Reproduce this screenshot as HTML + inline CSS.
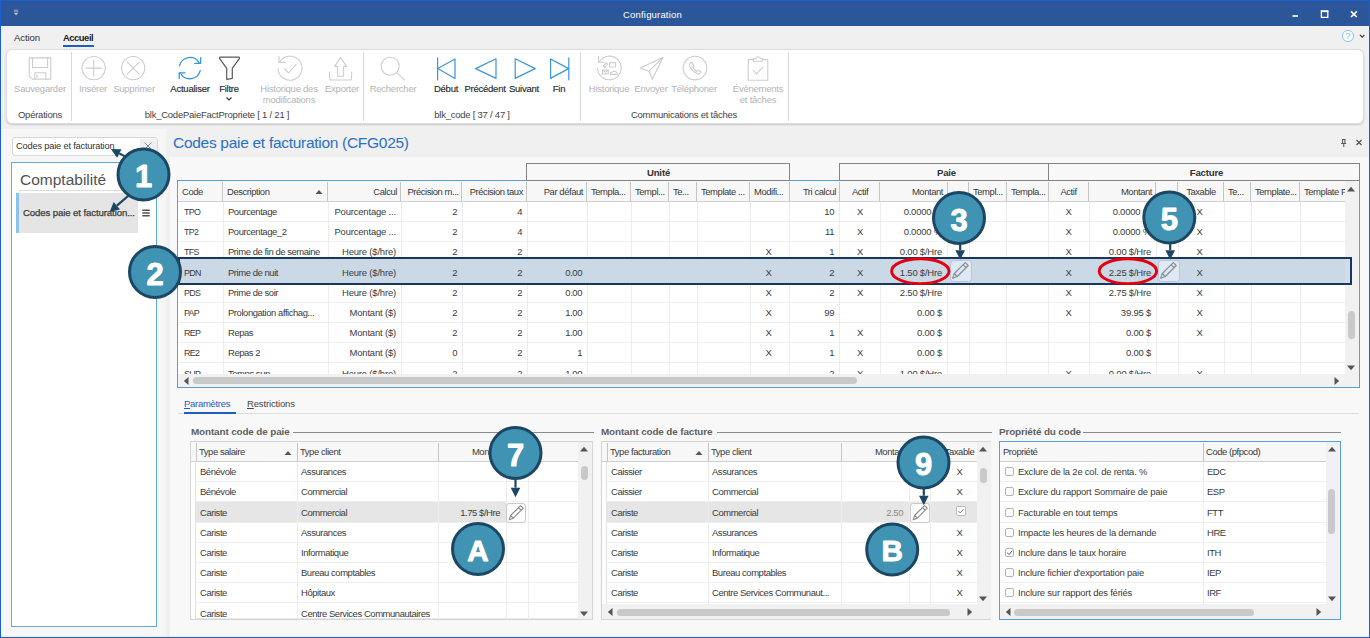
<!DOCTYPE html><html lang="fr"><head><meta charset="utf-8"><title>Configuration</title><style>
*{box-sizing:border-box;margin:0;padding:0}
html,body{width:1370px;height:638px;overflow:hidden}
body{position:relative;background:#f0f0f0;font-family:"Liberation Sans",sans-serif;font-size:11px;color:#3b3b3b}
.a{position:absolute}
.t{position:absolute;white-space:nowrap;line-height:14px;height:14px}
.r{text-align:right}
.c{text-align:center}
.g{color:#3a3a3a;font-size:9.46px;letter-spacing:-0.435px}
.rb{font-size:9.5px;letter-spacing:-0.24px;color:#2a2a2a;text-align:center}
.rbd{color:#b4b4b4}
.rbe{-webkit-text-stroke:.15px #2a2a2a}
.vl{position:absolute;width:1px;background:#ececec}
.hl{position:absolute;height:1px;background:#f0f0f0}
.hd{position:absolute;background:#f7f7f7;border-bottom:1px solid #d4d4d4}
.hs{position:absolute;width:1px;background:#c9c9c9}
.bub{position:absolute;border-radius:50%;background:#3f93b3;border:3px solid #1c4763;color:#fff;font-weight:bold;text-align:center;font-size:37px;box-shadow:0 1px 2px rgba(0,0,0,.25)}
</style></head><body>
<div class="a" style="left:0px;top:0px;width:1370px;height:26px;background:#2b579a"></div>
<div class="a" style="left:0px;top:0px;width:1370px;height:1px;background:#1c5fd0"></div>
<div class="a" style="left:0px;top:0px;width:1px;height:638px;background:#1c5fd0"></div>
<div class="a" style="left:1369px;top:0px;width:1px;height:638px;background:#1c5fd0"></div>
<div class="a" style="left:0px;top:636.6px;width:1370px;height:1.4px;background:#1c5fd0"></div>
<div class="t c" style="left:585px;top:8.2px;width:135px;color:#fff;font-size:9.5px;letter-spacing:.18px">Configuration</div>
<svg class="a" style="left:12px;top:8px" width="9" height="9" viewBox="12 8 9 9"><path d="M13.9 10.3h4.3M13.9 11.8h4.3" stroke="#aab2c0" stroke-width="0.9"/><path d="M13.9 12.9h4.3l-2.15 2.3z" fill="#c3c6cc"/></svg>
<svg class="a" style="left:1285px;top:6px" width="80" height="16" viewBox="1285 6 80 16"><g stroke="#fff" fill="none"><path d="M1292.5 16h5.5" stroke-width="1.7"/><path d="M1321.4 11.4h6.4v6h-6.4z" stroke-width="1.3"/><path d="M1320.8 11.2h7.6" stroke-width="1.9"/><path d="M1351 11.4l5.8 5.6M1356.8 11.4l-5.8 5.6" stroke-width="1.7"/></g></svg>
<div class="t " style="left:14px;top:31px;font-size:9.6px;letter-spacing:-.1px;color:#333">Action</div>
<div class="t " style="left:63px;top:31px;font-size:9.4px;letter-spacing:-.45px;color:#222;font-weight:bold">Accueil</div>
<div class="a" style="left:63px;top:45px;width:31px;height:2px;background:#1e5fbe"></div>
<svg class="a" style="left:1341px;top:29px" width="24" height="14" viewBox="0 0 24 14"><circle cx="7" cy="7" r="5.6" fill="#fafcff" stroke="#8fc3ec" stroke-width="1"/><text x="7" y="10.3" font-size="9" text-anchor="middle" fill="#86bdea" font-family="Liberation Sans,sans-serif">?</text><path d="M19 6l2.2 2.2 2.2-2.2" stroke="#444" stroke-width="1.3" fill="none"/></svg>
<div class="a" style="left:6.3px;top:49.3px;width:1358.2px;height:74.7px;background:#fff;border:1px solid #dcdcdc;border-radius:6px;box-shadow:0 1px 2px rgba(0,0,0,.17)"></div>
<div class="a" style="left:71px;top:52px;width:1px;height:69px;background:#d9d9d9"></div>
<div class="a" style="left:363px;top:52px;width:1px;height:69px;background:#d9d9d9"></div>
<div class="a" style="left:580px;top:52px;width:1px;height:69px;background:#d9d9d9"></div>
<div class="a" style="left:788px;top:52px;width:1px;height:69px;background:#d9d9d9"></div>
<svg class="a" style="left:0;top:50px" width="800" height="40" viewBox="0 50 800 40" fill="none" stroke-linecap="round" stroke-linejoin="round">
<g stroke="#cdcdcd" stroke-width="1.1"><path d="M29.2 57.9h21.6v21.2H32.4l-3.2-3.2z"/><path d="M32.6 57.9v9.6h15v-9.6"/><path d="M34.8 79.1v-6.3h11v6.3"/><path d="M37 74.8v2.4"/></g>
<g stroke="#cdcdcd" stroke-width="1.1"><circle cx="93.7" cy="68.1" r="11.6"/><path d="M85.8 68.1h15.8M93.7 60.2v15.8"/></g>
<g stroke="#cdcdcd" stroke-width="1.1"><circle cx="133.2" cy="68.1" r="11.6"/><path d="M127.5 62.4l11.4 11.4M138.9 62.4l-11.4 11.4"/></g>
<g stroke="#3a95dc" stroke-width="1.3"><path d="M179.6 65.6a10.6 10.6 0 0 1 19.6-2.6"/><path d="M200.6 57.6v5.8h-5.8"/><path d="M200.2 70.6a10.6 10.6 0 0 1-19.6 2.6"/><path d="M179.2 78.6v-5.8h5.8"/></g>
<g stroke="#5a5a5a" stroke-width="1.2"><path d="M220.2 57.2h18.4q1.4 0.2 0.7 1.5l-7 9.6v10l-5.6 1.1v-11.1l-7-9.6q-0.7-1.3 0.5-1.5z"/></g>
<g stroke="#cdcdcd" stroke-width="1.1"><path d="M279.6 62.2a12 12 0 1 1-1.6 6.4"/><path d="M279 56.6v5.8h5.8"/><path d="M284.4 68.6l4.2 4.4 7.6-8.6"/></g>
<g stroke="#cdcdcd" stroke-width="1.1"><path d="M329.6 72v6q0 2 2 2h18q2 0 2-2v-6"/><path d="M340.6 57.6l6 8.8h-3v9.8h-6v-9.8h-3z"/></g>
<g stroke="#cdcdcd" stroke-width="1.1"><circle cx="390.2" cy="66.2" r="9"/><path d="M396.8 72.6l7.6 7.2"/></g>
<g stroke="#3a95dc" stroke-width="1.2"><path d="M437.6 57.9v21.9"/><path d="M437.8 68.6l17.2-9.6v19.4z"/></g>
<g stroke="#3a95dc" stroke-width="1.2"><path d="M475.6 68.6l20.4-9.8v19.6z"/></g>
<g stroke="#3a95dc" stroke-width="1.2"><path d="M535.2 68.6l-20-9.8v19.6z"/></g>
<g stroke="#3a95dc" stroke-width="1.2"><path d="M568.8 57.9v21.9"/><path d="M568.6 68.6l-18-9.6v19.4z"/></g>
<g stroke="#cdcdcd" stroke-width="1.1"><path d="M599.2 62a11.8 11.8 0 1 1-1.6 6.2"/><path d="M598.6 56.6v5.6h5.6"/><rect x="609.6" y="62.6" width="6" height="4.4" rx="0.8"/><path d="M603.4 66.2l3-3.4 1.4 1.2-3 3.4z"/><rect x="602.6" y="70" width="5.6" height="4"/><path d="M602.6 70l2.8 2.2 2.8-2.2"/><path d="M610.4 74.4q0-2.6 2.6-2.6 1.2-1.4 2.6 0 2 0.2 1.6 2.6z"/></g>
<g stroke="#cdcdcd" stroke-width="1.1"><path d="M640.2 68l22.6-10.4-10.4 21.6-3.4-8z"/><path d="M649 71.2l13.8-13.6"/></g>
<g stroke="#cdcdcd" stroke-width="1.1"><circle cx="695" cy="68.1" r="11.8"/><path d="M690.4 62.6q-1.6 1.4-0.6 3.6 2.4 5 7.4 7.6 2 0.8 3.2-0.8l0.6-1-2.6-1.8-1.4 1.2q-3-1.6-4.4-4.6l1.2-1.2-1.8-3z"/></g>
<g stroke="#cdcdcd" stroke-width="1.1"><path d="M753.4 59.6h-5.2v20.6h19.6V59.6h-5.2"/><path d="M753.4 61.2v-2.6h2.4q0.4-1.8 2.2-1.8t2.2 1.8h2.4v2.6z"/><path d="M753.2 70.4l3.4 3.4 6.4-7"/></g>
</svg>
<div class="t rb rbd" style="left:-10px;top:82px;width:100px;">Sauvegarder</div>
<div class="t rb rbd" style="left:43px;top:82px;width:100px;">Insérer</div>
<div class="t rb rbd" style="left:84px;top:82px;width:100px;">Supprimer</div>
<div class="t rb rbe" style="left:140px;top:82px;width:100px;">Actualiser</div>
<div class="t rb rbe" style="left:179px;top:82px;width:100px;">Filtre</div>
<div class="t rb rbd" style="left:239px;top:82px;width:100px;">Historique des</div>
<div class="t rb rbd" style="left:239px;top:93px;width:100px;">modifications</div>
<div class="t rb rbd" style="left:292px;top:82px;width:100px;">Exporter</div>
<div class="t rb rbd" style="left:343px;top:82px;width:100px;">Rechercher</div>
<div class="t rb rbe" style="left:396px;top:82px;width:100px;">Début</div>
<div class="t rb rbe" style="left:435px;top:82px;width:100px;">Précédent</div>
<div class="t rb rbe" style="left:474px;top:82px;width:100px;">Suivant</div>
<div class="t rb rbe" style="left:509px;top:82px;width:100px;">Fin</div>
<div class="t rb rbd" style="left:559px;top:82px;width:100px;">Historique</div>
<div class="t rb rbd" style="left:601px;top:82px;width:100px;">Envoyer</div>
<div class="t rb rbd" style="left:644px;top:82px;width:100px;">Téléphoner</div>
<div class="t rb rbd" style="left:708px;top:82px;width:100px;">Évènements</div>
<div class="t rb rbd" style="left:708px;top:93px;width:100px;">et tâches</div>
<div class="t rb" style="left:-60px;top:108px;width:200px;color:#444">Opérations</div>
<div class="t rb" style="left:117px;top:108px;width:200px;color:#444">blk_CodePaieFactPropriete [ 1 / 21 ]</div>
<div class="t rb" style="left:372px;top:108px;width:200px;color:#444">blk_code [ 37 / 47 ]</div>
<div class="t rb" style="left:584px;top:108px;width:200px;color:#444">Communications et tâches</div>
<svg class="a" style="left:225px;top:96px" width="8" height="6" viewBox="0 0 8 6"><path d="M1.5 1.5l2.5 2.5 2.5-2.5" stroke="#333" stroke-width="1.1" fill="none"/></svg>
<div class="a" style="left:1px;top:129px;width:164.5px;height:507px;background:#f6f6f6"></div>
<div class="a" style="left:169.5px;top:157px;width:1199.5px;height:479px;background:#f8f8f8"></div>
<div class="a" style="left:12px;top:137px;width:146px;height:19px;background:#fff;border:1px solid #d6d6d6;border-radius:3px"></div>
<div class="t g" style="left:16px;top:139px;font-size:9.3px;letter-spacing:-.2px;color:#333">Codes paie et facturation</div>
<div class="a" style="left:139.5px;top:138.5px;width:17px;height:17px;background:#efefef;border-radius:0 2px 2px 0"></div>
<svg class="a" style="left:142.6px;top:141px" width="10" height="10" viewBox="0 0 10 10"><path d="M1.6 1.6l6.8 6.8M8.4 1.6l-6.8 6.8" stroke="#6c86b0" stroke-width="1" fill="none"/></svg>
<div class="a" style="left:11px;top:162px;width:146px;height:465px;background:#fff;border:1px solid #62a9de"></div>
<div class="t " style="left:20px;top:170px;font-size:15.5px;color:#525252;line-height:20px;height:20px">Comptabilité</div>
<div class="a" style="left:19px;top:190px;width:131px;height:1px;background:#dcdcdc"></div>
<div class="a" style="left:16px;top:193px;width:122px;height:40px;background:#e5e5e5;border-left:3px solid #8cc3ec"></div>
<div class="t " style="left:23px;top:206px;font-size:9.6px;letter-spacing:-.1px;color:#3a3a3a;-webkit-text-stroke:0.25px #3a3a3a">Codes paie et facturation...</div>
<svg class="a" style="left:142px;top:208.6px" width="8" height="8" viewBox="0 0 8 8"><path d="M0.3 1.3h7.4M0.3 4h7.4M0.3 6.7h7.4" stroke="#505050" stroke-width="1.4"/></svg>
<div class="t " style="left:173px;top:133px;font-size:15.5px;color:#2a6fc9;line-height:20px;height:20px;letter-spacing:-.29px">Codes paie et facturation (CFG025)</div>
<svg class="a" style="left:1338px;top:138px" width="28" height="10" viewBox="0 0 28 10"><g stroke="#555" stroke-width="1" fill="none"><path d="M4 1.5h3.5M4.6 1.5v4M6.9 1.5v4M3.2 5.5h5M5.75 5.5v3.5"/><path d="M18.5 2l5 5M23.5 2l-5 5" stroke-width="1.3"/></g></svg>
<div class="a" style="left:177px;top:180px;width:1183px;height:208px;background:#fff;border:1px solid #55a0dc"></div>
<div class="a" style="left:178px;top:181px;width:1167px;height:20.5px;background:#f7f7f7;border-bottom:1px solid #d0d0d0"></div>
<div class="a" style="left:526px;top:162.5px;width:264px;height:18.5px;background:#f8f8f8;border:1.5px solid #848484"></div>
<div class="t c" style="left:527px;top:166px;width:263px;font-weight:bold;font-size:9.6px;letter-spacing:-.15px;color:#333">Unité</div>
<div class="a" style="left:839px;top:162.5px;width:210px;height:18.5px;background:#f8f8f8;border:1.5px solid #848484"></div>
<div class="t c" style="left:842px;top:166px;width:209px;font-weight:bold;font-size:9.6px;letter-spacing:-.15px;color:#333">Paie</div>
<div class="a" style="left:1048px;top:162.5px;width:312px;height:18.5px;background:#f8f8f8;border:1.5px solid #848484"></div>
<div class="t c" style="left:1051px;top:166px;width:311px;font-weight:bold;font-size:9.6px;letter-spacing:-.15px;color:#333">Facture</div>
<div class="a" style="left:222.0px;top:182px;width:1px;height:18.5px;background:#c4c4c4"></div>
<div class="a" style="left:327.0px;top:182px;width:1px;height:18.5px;background:#c4c4c4"></div>
<div class="a" style="left:400.0px;top:182px;width:1px;height:18.5px;background:#c4c4c4"></div>
<div class="a" style="left:461.0px;top:182px;width:1px;height:18.5px;background:#c4c4c4"></div>
<div class="a" style="left:526.0px;top:182px;width:1px;height:18.5px;background:#c4c4c4"></div>
<div class="a" style="left:586.0px;top:182px;width:1px;height:18.5px;background:#c4c4c4"></div>
<div class="a" style="left:630.0px;top:182px;width:1px;height:18.5px;background:#c4c4c4"></div>
<div class="a" style="left:668.0px;top:182px;width:1px;height:18.5px;background:#c4c4c4"></div>
<div class="a" style="left:696.0px;top:182px;width:1px;height:18.5px;background:#c4c4c4"></div>
<div class="a" style="left:749.0px;top:182px;width:1px;height:18.5px;background:#c4c4c4"></div>
<div class="a" style="left:788.8px;top:182px;width:1px;height:18.5px;background:#c4c4c4"></div>
<div class="a" style="left:838.7px;top:182px;width:1px;height:18.5px;background:#c4c4c4"></div>
<div class="a" style="left:879.3px;top:182px;width:1px;height:18.5px;background:#c4c4c4"></div>
<div class="a" style="left:946.5px;top:182px;width:1px;height:18.5px;background:#c4c4c4"></div>
<div class="a" style="left:968.0px;top:182px;width:1px;height:18.5px;background:#c4c4c4"></div>
<div class="a" style="left:1005.7px;top:182px;width:1px;height:18.5px;background:#c4c4c4"></div>
<div class="a" style="left:1047.5px;top:182px;width:1px;height:18.5px;background:#c4c4c4"></div>
<div class="a" style="left:1088.0px;top:182px;width:1px;height:18.5px;background:#c4c4c4"></div>
<div class="a" style="left:1155.0px;top:182px;width:1px;height:18.5px;background:#c4c4c4"></div>
<div class="a" style="left:1177.0px;top:182px;width:1px;height:18.5px;background:#c4c4c4"></div>
<div class="a" style="left:1223.0px;top:182px;width:1px;height:18.5px;background:#c4c4c4"></div>
<div class="a" style="left:1250.0px;top:182px;width:1px;height:18.5px;background:#c4c4c4"></div>
<div class="a" style="left:1299.0px;top:182px;width:1px;height:18.5px;background:#c4c4c4"></div>
<div class="t g" style="left:182px;top:184.7px;">Code</div>
<div class="t g" style="left:227px;top:184.7px;">Description</div>
<div class="t g r" style="left:328px;top:184.7px;width:69px;">Calcul</div>
<div class="t g" style="left:407.4px;top:184.7px;">Précision m...</div>
<div class="t g r" style="left:462px;top:184.7px;width:61px;">Précision taux</div>
<div class="t g r" style="left:527px;top:184.7px;width:56px;">Par défaut</div>
<div class="t g" style="left:591px;top:184.7px;">Templa...</div>
<div class="t g" style="left:635px;top:184.7px;">Templ...</div>
<div class="t g" style="left:673px;top:184.7px;">Te...</div>
<div class="t g" style="left:701px;top:184.7px;">Template ...</div>
<div class="t g" style="left:754px;top:184.7px;">Modifi...</div>
<div class="t g r" style="left:790px;top:184.7px;width:46px;">Tri calcul</div>
<div class="t g c" style="left:840px;top:184.7px;width:40px;">Actif</div>
<div class="t g r" style="left:880px;top:184.7px;width:63px;">Montant</div>
<div class="t g" style="left:973px;top:184.7px;">Templ...</div>
<div class="t g" style="left:1011px;top:184.7px;">Templa...</div>
<div class="t g c" style="left:1048px;top:184.7px;width:41px;">Actif</div>
<div class="t g r" style="left:1089px;top:184.7px;width:63px;">Montant</div>
<div class="t g c" style="left:1178px;top:184.7px;width:46px;">Taxable</div>
<div class="t g" style="left:1228px;top:184.7px;">Te...</div>
<div class="t g" style="left:1255px;top:184.7px;">Template...</div>
<div class="t g" style="left:1304px;top:184.7px;">Template F</div>
<svg class="a" style="left:315px;top:188.8px" width="8" height="6" viewBox="0 0 8 6"><path d="M0.5 5L4 1l3.5 4z" fill="#555"/></svg>
<div class="a" style="left:178px;top:201.5px;width:1167px;height:172.5px;overflow:hidden">
<div class="hl" style="left:0;top:19.2px;width:1167px"></div>
<div class="hl" style="left:0;top:39.4px;width:1167px"></div>
<div class="hl" style="left:0;top:59.6px;width:1167px"></div>
<div class="hl" style="left:0;top:79.8px;width:1167px"></div>
<div class="hl" style="left:0;top:100.0px;width:1167px"></div>
<div class="hl" style="left:0;top:120.2px;width:1167px"></div>
<div class="hl" style="left:0;top:140.4px;width:1167px"></div>
<div class="hl" style="left:0;top:160.6px;width:1167px"></div>
<div class="hl" style="left:0;top:180.8px;width:1167px"></div>
<div class="vl" style="left:44.5px;top:0;height:200px"></div>
<div class="vl" style="left:149.5px;top:0;height:200px"></div>
<div class="vl" style="left:222.5px;top:0;height:200px"></div>
<div class="vl" style="left:283.5px;top:0;height:200px"></div>
<div class="vl" style="left:348.5px;top:0;height:200px"></div>
<div class="vl" style="left:408.5px;top:0;height:200px"></div>
<div class="vl" style="left:452.5px;top:0;height:200px"></div>
<div class="vl" style="left:490.5px;top:0;height:200px"></div>
<div class="vl" style="left:518.5px;top:0;height:200px"></div>
<div class="vl" style="left:571.5px;top:0;height:200px"></div>
<div class="vl" style="left:611.3px;top:0;height:200px"></div>
<div class="vl" style="left:661.2px;top:0;height:200px"></div>
<div class="vl" style="left:701.8px;top:0;height:200px"></div>
<div class="vl" style="left:769px;top:0;height:200px"></div>
<div class="vl" style="left:790.5px;top:0;height:200px"></div>
<div class="vl" style="left:828.2px;top:0;height:200px"></div>
<div class="vl" style="left:870px;top:0;height:200px"></div>
<div class="vl" style="left:910.5px;top:0;height:200px"></div>
<div class="vl" style="left:977.5px;top:0;height:200px"></div>
<div class="vl" style="left:999.5px;top:0;height:200px"></div>
<div class="vl" style="left:1045.5px;top:0;height:200px"></div>
<div class="vl" style="left:1072.5px;top:0;height:200px"></div>
<div class="vl" style="left:1121.5px;top:0;height:200px"></div>
</div>
<div class="a" style="left:179px;top:258px;width:1172px;height:26px;background:#cbd8e6"></div>
<div class="a" style="left:178px;top:201.5px;width:1167px;height:172.5px;overflow:hidden">
<div class="t g" style="left:6px;top:3.4px;font-size:8.9px;letter-spacing:-.7px">TPO</div>
<div class="t g" style="left:50px;top:3.4px;">Pourcentage</div>
<div class="t g r" style="left:150px;top:3.4px;width:68px;letter-spacing:-.17px">Pourcentage ...</div>
<div class="t g r" style="left:223px;top:3.4px;width:56px;">2</div>
<div class="t g r" style="left:284px;top:3.4px;width:60px;">4</div>
<div class="t g r" style="left:612px;top:3.4px;width:44px;">10</div>
<div class="t g c" style="left:662px;top:3.4px;width:40px;">X</div>
<div class="t g r" style="left:702px;top:3.4px;width:62px;letter-spacing:-.2px">0.0000 %</div>
<div class="t g c" style="left:870px;top:3.4px;width:41px;">X</div>
<div class="t g r" style="left:911px;top:3.4px;width:62px;letter-spacing:-.2px">0.0000 %</div>
<div class="t g c" style="left:997px;top:3.4px;width:49px;">X</div>
<div class="t g" style="left:6px;top:23.6px;font-size:8.9px;letter-spacing:-.7px">TP2</div>
<div class="t g" style="left:50px;top:23.6px;">Pourcentage_2</div>
<div class="t g r" style="left:150px;top:23.6px;width:68px;letter-spacing:-.17px">Pourcentage ...</div>
<div class="t g r" style="left:223px;top:23.6px;width:56px;">2</div>
<div class="t g r" style="left:284px;top:23.6px;width:60px;">4</div>
<div class="t g r" style="left:612px;top:23.6px;width:44px;">11</div>
<div class="t g c" style="left:662px;top:23.6px;width:40px;">X</div>
<div class="t g r" style="left:702px;top:23.6px;width:62px;letter-spacing:-.2px">0.0000 %</div>
<div class="t g c" style="left:870px;top:23.6px;width:41px;">X</div>
<div class="t g r" style="left:911px;top:23.6px;width:62px;letter-spacing:-.2px">0.0000 %</div>
<div class="t g c" style="left:997px;top:23.6px;width:49px;">X</div>
<div class="t g" style="left:6px;top:43.8px;font-size:8.9px;letter-spacing:-.7px">TFS</div>
<div class="t g" style="left:50px;top:43.8px;">Prime de fin de semaine</div>
<div class="t g r" style="left:150px;top:43.8px;width:68px;letter-spacing:-.17px">Heure ($/hre)</div>
<div class="t g r" style="left:223px;top:43.8px;width:56px;">2</div>
<div class="t g r" style="left:284px;top:43.8px;width:60px;">2</div>
<div class="t g c" style="left:569px;top:43.8px;width:43px;">X</div>
<div class="t g r" style="left:612px;top:43.8px;width:44px;">1</div>
<div class="t g c" style="left:662px;top:43.8px;width:40px;">X</div>
<div class="t g r" style="left:702px;top:43.8px;width:62px;letter-spacing:-.2px">0.00 $/Hre</div>
<div class="t g c" style="left:870px;top:43.8px;width:41px;">X</div>
<div class="t g r" style="left:911px;top:43.8px;width:62px;letter-spacing:-.2px">0.00 $/Hre</div>
<div class="t g c" style="left:997px;top:43.8px;width:49px;">X</div>
<div class="t g" style="left:6px;top:64.0px;font-size:8.9px;letter-spacing:-.7px">PDN</div>
<div class="t g" style="left:50px;top:64.0px;">Prime de nuit</div>
<div class="t g r" style="left:150px;top:64.0px;width:68px;letter-spacing:-.17px">Heure ($/hre)</div>
<div class="t g r" style="left:223px;top:64.0px;width:56px;">2</div>
<div class="t g r" style="left:284px;top:64.0px;width:60px;">2</div>
<div class="t g r" style="left:349px;top:64.0px;width:55px;">0.00</div>
<div class="t g c" style="left:569px;top:64.0px;width:43px;">X</div>
<div class="t g r" style="left:612px;top:64.0px;width:44px;">2</div>
<div class="t g c" style="left:662px;top:64.0px;width:40px;">X</div>
<div class="t g r" style="left:702px;top:64.0px;width:62px;letter-spacing:-.2px">1.50 $/Hre</div>
<div class="t g c" style="left:870px;top:64.0px;width:41px;">X</div>
<div class="t g r" style="left:911px;top:64.0px;width:62px;letter-spacing:-.2px">2.25 $/Hre</div>
<div class="t g c" style="left:997px;top:64.0px;width:49px;">X</div>
<div class="t g" style="left:6px;top:84.2px;font-size:8.9px;letter-spacing:-.7px">PDS</div>
<div class="t g" style="left:50px;top:84.2px;">Prime de soir</div>
<div class="t g r" style="left:150px;top:84.2px;width:68px;letter-spacing:-.17px">Heure ($/hre)</div>
<div class="t g r" style="left:223px;top:84.2px;width:56px;">2</div>
<div class="t g r" style="left:284px;top:84.2px;width:60px;">2</div>
<div class="t g r" style="left:349px;top:84.2px;width:55px;">0.00</div>
<div class="t g c" style="left:569px;top:84.2px;width:43px;">X</div>
<div class="t g r" style="left:612px;top:84.2px;width:44px;">2</div>
<div class="t g c" style="left:662px;top:84.2px;width:40px;">X</div>
<div class="t g r" style="left:702px;top:84.2px;width:62px;letter-spacing:-.2px">2.50 $/Hre</div>
<div class="t g c" style="left:870px;top:84.2px;width:41px;">X</div>
<div class="t g r" style="left:911px;top:84.2px;width:62px;letter-spacing:-.2px">2.75 $/Hre</div>
<div class="t g c" style="left:997px;top:84.2px;width:49px;">X</div>
<div class="t g" style="left:6px;top:104.4px;font-size:8.9px;letter-spacing:-.7px">PAP</div>
<div class="t g" style="left:50px;top:104.4px;">Prolongation affichag...</div>
<div class="t g r" style="left:150px;top:104.4px;width:68px;letter-spacing:-.17px">Montant ($)</div>
<div class="t g r" style="left:223px;top:104.4px;width:56px;">2</div>
<div class="t g r" style="left:284px;top:104.4px;width:60px;">2</div>
<div class="t g r" style="left:349px;top:104.4px;width:55px;">1.00</div>
<div class="t g c" style="left:569px;top:104.4px;width:43px;">X</div>
<div class="t g r" style="left:612px;top:104.4px;width:44px;">99</div>
<div class="t g r" style="left:702px;top:104.4px;width:62px;letter-spacing:-.2px">0.00 $</div>
<div class="t g c" style="left:870px;top:104.4px;width:41px;">X</div>
<div class="t g r" style="left:911px;top:104.4px;width:62px;letter-spacing:-.2px">39.95 $</div>
<div class="t g c" style="left:997px;top:104.4px;width:49px;">X</div>
<div class="t g" style="left:6px;top:124.6px;font-size:8.9px;letter-spacing:-.7px">REP</div>
<div class="t g" style="left:50px;top:124.6px;">Repas</div>
<div class="t g r" style="left:150px;top:124.6px;width:68px;letter-spacing:-.17px">Montant ($)</div>
<div class="t g r" style="left:223px;top:124.6px;width:56px;">2</div>
<div class="t g r" style="left:284px;top:124.6px;width:60px;">2</div>
<div class="t g r" style="left:349px;top:124.6px;width:55px;">1.00</div>
<div class="t g c" style="left:569px;top:124.6px;width:43px;">X</div>
<div class="t g r" style="left:612px;top:124.6px;width:44px;">1</div>
<div class="t g c" style="left:662px;top:124.6px;width:40px;">X</div>
<div class="t g r" style="left:702px;top:124.6px;width:62px;letter-spacing:-.2px">0.00 $</div>
<div class="t g r" style="left:911px;top:124.6px;width:62px;letter-spacing:-.2px">0.00 $</div>
<div class="t g c" style="left:997px;top:124.6px;width:49px;">X</div>
<div class="t g" style="left:6px;top:144.8px;font-size:8.9px;letter-spacing:-.7px">RE2</div>
<div class="t g" style="left:50px;top:144.8px;">Repas 2</div>
<div class="t g r" style="left:150px;top:144.8px;width:68px;letter-spacing:-.17px">Montant ($)</div>
<div class="t g r" style="left:223px;top:144.8px;width:56px;">0</div>
<div class="t g r" style="left:284px;top:144.8px;width:60px;">2</div>
<div class="t g r" style="left:349px;top:144.8px;width:55px;">1</div>
<div class="t g c" style="left:569px;top:144.8px;width:43px;">X</div>
<div class="t g r" style="left:612px;top:144.8px;width:44px;">1</div>
<div class="t g c" style="left:662px;top:144.8px;width:40px;">X</div>
<div class="t g r" style="left:702px;top:144.8px;width:62px;letter-spacing:-.2px">0.00 $</div>
<div class="t g r" style="left:911px;top:144.8px;width:62px;letter-spacing:-.2px">0.00 $</div>
<div class="t g" style="left:6px;top:165.0px;font-size:8.9px;letter-spacing:-.7px">SUP</div>
<div class="t g" style="left:50px;top:165.0px;">Temps sup</div>
<div class="t g r" style="left:150px;top:165.0px;width:68px;letter-spacing:-.17px">Heure ($/hre)</div>
<div class="t g r" style="left:223px;top:165.0px;width:56px;">2</div>
<div class="t g r" style="left:284px;top:165.0px;width:60px;">2</div>
<div class="t g r" style="left:349px;top:165.0px;width:55px;">1.00</div>
<div class="t g r" style="left:612px;top:165.0px;width:44px;">2</div>
<div class="t g c" style="left:662px;top:165.0px;width:40px;">X</div>
<div class="t g r" style="left:702px;top:165.0px;width:62px;letter-spacing:-.2px">1.00 $/Hre</div>
<div class="t g c" style="left:870px;top:165.0px;width:41px;">X</div>
<div class="t g r" style="left:911px;top:165.0px;width:62px;letter-spacing:-.2px">0.00 $/Hre</div>
<div class="t g c" style="left:997px;top:165.0px;width:49px;">X</div>
</div>
<div class="a" style="left:1345px;top:181px;width:14px;height:206px;background:#f1f1f1"></div>
<svg class="a" style="left:1346px;top:185.5px" width="10" height="6" viewBox="0 0 10 6"><path d="M1 5.5L5 0.8l4 4.7z" fill="#555"/></svg>
<svg class="a" style="left:1346px;top:364.5px" width="10" height="6" viewBox="0 0 10 6"><path d="M1 0.5L5 5.2l4-4.7z" fill="#555"/></svg>
<div class="a" style="left:1348px;top:310.5px;width:7px;height:28px;background:#c9c9c9;border-radius:3.5px"></div>
<div class="a" style="left:178px;top:374px;width:1167px;height:13px;background:#f1f1f1"></div>
<svg class="a" style="left:182.5px;top:376px" width="6" height="10" viewBox="0 0 6 10"><path d="M5.5 1L0.8 5l4.7 4z" fill="#555"/></svg>
<svg class="a" style="left:1334px;top:376px" width="6" height="10" viewBox="0 0 6 10"><path d="M0.5 1L5.2 5l-4.7 4z" fill="#555"/></svg>
<div class="a" style="left:193px;top:377px;width:664px;height:7px;background:#c9c9c9;border-radius:3.5px"></div>
<div class="a" style="left:178px;top:413px;width:1181px;height:1px;background:#dedede"></div>
<div class="t " style="left:184px;top:397px;font-size:9.5px;letter-spacing:-.3px;color:#1e5fbe"><u>P</u>aramètres</div>
<div class="t " style="left:247px;top:397px;font-size:9.5px;letter-spacing:-.15px;color:#444"><u>R</u>estrictions</div>
<div class="a" style="left:184px;top:412px;width:52px;height:2px;background:#1e5fbe"></div>
<div class="t " style="left:191px;top:425px;font-weight:bold;font-size:9.9px;letter-spacing:-.12px;color:#606060">Montant code de paie</div>
<div class="a" style="left:293px;top:432px;width:301px;height:1px;background:#8a8a8a"></div>
<div class="t " style="left:601px;top:425px;font-weight:bold;font-size:9.9px;letter-spacing:-.12px;color:#606060">Montant code de facture</div>
<div class="a" style="left:717px;top:432px;width:275px;height:1px;background:#8a8a8a"></div>
<div class="t " style="left:999px;top:425px;font-weight:bold;font-size:9.9px;letter-spacing:-.12px;color:#606060">Propriété du code</div>
<div class="a" style="left:1083px;top:432px;width:258px;height:1px;background:#8a8a8a"></div>
<div class="a" style="left:190px;top:441px;width:403px;height:179px;background:#fff;border:1px solid #d4d4d4"></div>
<div class="a" style="left:191px;top:442px;width:401px;height:177px;border:1.5px solid #e9e9e9;border-top:2px solid #e6e6e6"></div>
<div class="a" style="left:191px;top:442px;width:387px;height:19.7px;background:#f7f7f7;border-bottom:1px solid #d0d0d0"></div>
<div class="a" style="left:196px;top:443px;width:1px;height:18px;background:#c4c4c4"></div>
<div class="a" style="left:297px;top:443px;width:1px;height:18px;background:#c4c4c4"></div>
<div class="a" style="left:438px;top:443px;width:1px;height:18px;background:#c4c4c4"></div>
<div class="t g" style="left:199px;top:444.5px;">Type salaire</div>
<div class="t g" style="left:300px;top:444.5px;">Type client</div>
<div class="t g r" style="left:438px;top:444.5px;width:65px;">Montant</div>
<svg class="a" style="left:284px;top:449.5px" width="8" height="6" viewBox="0 0 8 6"><path d="M0.5 5L4 1l3.5 4z" fill="#555"/></svg>
<div class="a" style="left:191px;top:462px;width:387px;height:157px;overflow:hidden">
<div class="hl" style="left:5px;top:19.2px;width:382px"></div>
<div class="t g" style="left:9px;top:3.2px;">Bénévole</div>
<div class="t g" style="left:110px;top:3.2px;">Assurances</div>
<div class="hl" style="left:5px;top:39.4px;width:382px"></div>
<div class="t g" style="left:9px;top:23.4px;">Bénévole</div>
<div class="t g" style="left:110px;top:23.4px;">Commercial</div>
<div class="a" style="left:5px;top:40.4px;width:310px;height:20.2px;background:#e6e6e6"></div>
<div class="hl" style="left:5px;top:59.6px;width:382px"></div>
<div class="t g" style="left:9px;top:43.6px;">Cariste</div>
<div class="t g" style="left:110px;top:43.6px;">Commercial</div>
<div class="t g r" style="left:247px;top:43.6px;width:62px;">1.75 $/Hre</div>
<div class="hl" style="left:5px;top:79.8px;width:382px"></div>
<div class="t g" style="left:9px;top:63.8px;">Cariste</div>
<div class="t g" style="left:110px;top:63.8px;">Assurances</div>
<div class="hl" style="left:5px;top:100.0px;width:382px"></div>
<div class="t g" style="left:9px;top:84.0px;">Cariste</div>
<div class="t g" style="left:110px;top:84.0px;">Informatique</div>
<div class="hl" style="left:5px;top:120.2px;width:382px"></div>
<div class="t g" style="left:9px;top:104.2px;">Cariste</div>
<div class="t g" style="left:110px;top:104.2px;">Bureau comptables</div>
<div class="hl" style="left:5px;top:140.4px;width:382px"></div>
<div class="t g" style="left:9px;top:124.4px;">Cariste</div>
<div class="t g" style="left:110px;top:124.4px;">Hôpitaux</div>
<div class="hl" style="left:5px;top:160.6px;width:382px"></div>
<div class="t g" style="left:9px;top:144.6px;">Cariste</div>
<div class="t g" style="left:110px;top:144.6px;">Centre Services Communautaires</div>
<div class="vl" style="left:106px;top:0;height:200px"></div>
<div class="vl" style="left:247px;top:0;height:200px"></div>
<div class="vl" style="left:315px;top:0;height:200px"></div>
<div class="vl" style="left:337px;top:0;height:200px"></div>
</div>
<div class="a" style="left:191px;top:462px;width:5px;height:157px;background:#fff;border-right:1px solid #e2e2e2"></div>
<div class="a" style="left:578px;top:442px;width:14px;height:177px;background:#f1f1f1"></div>
<svg class="a" style="left:579px;top:446px" width="10" height="6" viewBox="0 0 10 6"><path d="M1 5.5L5 0.8l4 4.7z" fill="#555"/></svg>
<svg class="a" style="left:579px;top:610.7px" width="10" height="6" viewBox="0 0 10 6"><path d="M1 0.5L5 5.2l4-4.7z" fill="#555"/></svg>
<div class="a" style="left:580.5px;top:466px;width:7px;height:14px;background:#c9c9c9;border-radius:3.5px"></div>
<div class="a" style="left:506px;top:503px;width:20px;height:20px;background:#fdfdfd;border:1px solid #c9c9c9;border-radius:3px"><svg width="21" height="20" viewBox="0 0 21 20" style="position:absolute;left:-1px;top:-1px"><g fill="none" stroke="#8a8a8a" stroke-width="1.1" stroke-linejoin="round"><path d="M3.2 16.8L4.6 12.5 14.6 2.6 17.2 5.2 7.3 15.2z"/><path d="M4.6 12.5l2.7 2.7"/><path d="M12.6 4.6l2.7 2.7"/></g></svg></div>
<div class="a" style="left:601px;top:441px;width:390px;height:179px;background:#fff;border:1px solid #d4d4d4"></div>
<div class="a" style="left:602px;top:442px;width:388px;height:177px;border:1.5px solid #e9e9e9;border-top:2px solid #e6e6e6"></div>
<div class="a" style="left:602px;top:442px;width:375px;height:19.7px;background:#f7f7f7;border-bottom:1px solid #d0d0d0"></div>
<div class="a" style="left:607px;top:443px;width:1px;height:18px;background:#c4c4c4"></div>
<div class="a" style="left:708px;top:443px;width:1px;height:18px;background:#c4c4c4"></div>
<div class="a" style="left:841px;top:443px;width:1px;height:18px;background:#c4c4c4"></div>
<div class="t g" style="left:610px;top:444.5px;">Type facturation</div>
<div class="t g" style="left:711px;top:444.5px;">Type client</div>
<div class="t g r" style="left:841px;top:444.5px;width:65px;">Montant</div>
<div class="t g c" style="left:934px;top:444.5px;width:51px;">Taxable</div>
<div class="a" style="left:930px;top:443px;width:1px;height:18px;background:#c4c4c4"></div>
<svg class="a" style="left:695px;top:449.5px" width="8" height="6" viewBox="0 0 8 6"><path d="M0.5 5L4 1l3.5 4z" fill="#555"/></svg>
<div class="a" style="left:602px;top:462px;width:375px;height:142px;overflow:hidden">
<div class="hl" style="left:5px;top:19.2px;width:370px"></div>
<div class="t g" style="left:9px;top:3.2px;">Caissier</div>
<div class="t g" style="left:110px;top:3.2px;">Assurances</div>
<div class="t g c" style="left:340px;top:3.2px;width:35px;">X</div>
<div class="hl" style="left:5px;top:39.4px;width:370px"></div>
<div class="t g" style="left:9px;top:23.4px;">Caissier</div>
<div class="t g" style="left:110px;top:23.4px;">Commercial</div>
<div class="t g c" style="left:340px;top:23.4px;width:35px;">X</div>
<div class="a" style="left:5px;top:40.4px;width:370px;height:20.2px;background:#e6e6e6"></div>
<div class="hl" style="left:5px;top:59.6px;width:370px"></div>
<div class="t g" style="left:9px;top:43.6px;">Cariste</div>
<div class="t g" style="left:110px;top:43.6px;">Commercial</div>
<div class="t g r" style="left:239px;top:43.6px;width:62px;color:#8a8a8a">2.50</div>
<div class="hl" style="left:5px;top:79.8px;width:370px"></div>
<div class="t g" style="left:9px;top:63.8px;">Cariste</div>
<div class="t g" style="left:110px;top:63.8px;">Assurances</div>
<div class="t g c" style="left:340px;top:63.8px;width:35px;">X</div>
<div class="hl" style="left:5px;top:100.0px;width:370px"></div>
<div class="t g" style="left:9px;top:84.0px;">Cariste</div>
<div class="t g" style="left:110px;top:84.0px;">Informatique</div>
<div class="t g c" style="left:340px;top:84.0px;width:35px;">X</div>
<div class="hl" style="left:5px;top:120.2px;width:370px"></div>
<div class="t g" style="left:9px;top:104.2px;">Cariste</div>
<div class="t g" style="left:110px;top:104.2px;">Bureau comptables</div>
<div class="t g c" style="left:340px;top:104.2px;width:35px;">X</div>
<div class="hl" style="left:5px;top:140.4px;width:370px"></div>
<div class="t g" style="left:9px;top:124.4px;">Cariste</div>
<div class="t g" style="left:110px;top:124.4px;">Centre Services Communaut...</div>
<div class="t g c" style="left:340px;top:124.4px;width:35px;">X</div>
<div class="hl" style="left:5px;top:160.6px;width:370px"></div>
<div class="t g" style="left:9px;top:144.6px;">Cariste</div>
<div class="t g" style="left:110px;top:144.6px;">Hôpitaux</div>
<div class="t g c" style="left:340px;top:144.6px;width:35px;">X</div>
<div class="vl" style="left:106px;top:0;height:200px"></div>
<div class="vl" style="left:239px;top:0;height:200px"></div>
<div class="vl" style="left:307px;top:0;height:200px"></div>
<div class="vl" style="left:328px;top:0;height:200px"></div>
</div>
<div class="a" style="left:602px;top:462px;width:5px;height:142px;background:#fff;border-right:1px solid #e2e2e2"></div>
<div class="a" style="left:977px;top:442px;width:14px;height:177px;background:#f1f1f1"></div>
<svg class="a" style="left:978px;top:446px" width="10" height="6" viewBox="0 0 10 6"><path d="M1 5.5L5 0.8l4 4.7z" fill="#555"/></svg>
<svg class="a" style="left:978px;top:595.7px" width="10" height="6" viewBox="0 0 10 6"><path d="M1 0.5L5 5.2l4-4.7z" fill="#555"/></svg>
<div class="a" style="left:979.5px;top:467.5px;width:7px;height:15.0px;background:#c9c9c9;border-radius:3.5px"></div>
<div class="a" style="left:602px;top:604px;width:375px;height:15px;background:#f1f1f1"></div>
<svg class="a" style="left:607px;top:607px" width="6" height="10" viewBox="0 0 6 10"><path d="M5.5 1L0.8 5l4.7 4z" fill="#555"/></svg>
<svg class="a" style="left:967px;top:607px" width="6" height="10" viewBox="0 0 6 10"><path d="M0.5 1L5.2 5l-4.7 4z" fill="#555"/></svg>
<div class="a" style="left:617px;top:608.5px;width:333px;height:7px;background:#c9c9c9;border-radius:3.5px"></div>
<div class="a" style="left:910px;top:503px;width:20px;height:20px;background:#fdfdfd;border:1px solid #c9c9c9;border-radius:3px"><svg width="21" height="20" viewBox="0 0 21 20" style="position:absolute;left:-1px;top:-1px"><g fill="none" stroke="#8a8a8a" stroke-width="1.1" stroke-linejoin="round"><path d="M3.2 16.8L4.6 12.5 14.6 2.6 17.2 5.2 7.3 15.2z"/><path d="M4.6 12.5l2.7 2.7"/><path d="M12.6 4.6l2.7 2.7"/></g></svg></div>
<svg class="a" style="left:956.3px;top:505.6px" width="10" height="10" viewBox="0 0 11 11"><rect x="0.5" y="0.5" width="10" height="10" rx="1.5" fill="#fff" stroke="#b2b2b2"/><path d="M2.6 5.4l2 2.2 3.8-4.2" stroke="#777" stroke-width="1.1" fill="none"/></svg>
<div class="a" style="left:999px;top:441px;width:342.29999999999995px;height:179px;background:#fff;border:1px solid #55a0dc"></div>
<div class="a" style="left:1000px;top:442px;width:326px;height:19.7px;background:#f7f7f7;border-bottom:1px solid #d0d0d0"></div>
<div class="a" style="left:1203px;top:443px;width:1px;height:18px;background:#c4c4c4"></div>
<div class="t g" style="left:1003px;top:444.5px;">Propriété</div>
<div class="t g" style="left:1206px;top:444.5px;">Code (pfpcod)</div>
<div class="a" style="left:1000px;top:462px;width:326px;height:142px;overflow:hidden">
<div class="hl" style="left:0px;top:19.2px;width:326px"></div>
<div class="t g" style="left:18px;top:3.2px;letter-spacing:-.21px">Exclure de la 2e col. de renta. %</div>
<div class="t g" style="left:207px;top:3.2px;">EDC</div>
<div class="hl" style="left:0px;top:39.4px;width:326px"></div>
<div class="t g" style="left:18px;top:23.4px;letter-spacing:-.21px">Exclure du rapport Sommaire de paie</div>
<div class="t g" style="left:207px;top:23.4px;">ESP</div>
<div class="hl" style="left:0px;top:59.6px;width:326px"></div>
<div class="t g" style="left:18px;top:43.6px;letter-spacing:-.21px">Facturable en tout temps</div>
<div class="t g" style="left:207px;top:43.6px;">FTT</div>
<div class="hl" style="left:0px;top:79.8px;width:326px"></div>
<div class="t g" style="left:18px;top:63.8px;letter-spacing:-.21px">Impacte les heures de la demande</div>
<div class="t g" style="left:207px;top:63.8px;">HRE</div>
<div class="hl" style="left:0px;top:100.0px;width:326px"></div>
<div class="t g" style="left:18px;top:84.0px;letter-spacing:-.21px">Inclure dans le taux horaire</div>
<div class="t g" style="left:207px;top:84.0px;">ITH</div>
<div class="hl" style="left:0px;top:120.2px;width:326px"></div>
<div class="t g" style="left:18px;top:104.2px;letter-spacing:-.21px">Inclure fichier d&#x27;exportation paie</div>
<div class="t g" style="left:207px;top:104.2px;">IEP</div>
<div class="hl" style="left:0px;top:140.4px;width:326px"></div>
<div class="t g" style="left:18px;top:124.4px;letter-spacing:-.21px">Inclure sur rapport des fériés</div>
<div class="t g" style="left:207px;top:124.4px;">IRF</div>
<div class="hl" style="left:0px;top:160.6px;width:326px"></div>
<div class="t g" style="left:18px;top:144.6px;letter-spacing:-.21px">Inclure x</div>
<div class="t g" style="left:207px;top:144.6px;">IXX</div>
<div class="vl" style="left:203px;top:0;height:200px"></div>
</div>
<svg class="a" style="left:1004.5px;top:467.2px" width="9" height="9" viewBox="0 0 9 9"><rect x="0.5" y="0.5" width="8" height="8" rx="1.5" fill="#fff" stroke="#b2b2b2"/></svg>
<svg class="a" style="left:1004.5px;top:487.4px" width="9" height="9" viewBox="0 0 9 9"><rect x="0.5" y="0.5" width="8" height="8" rx="1.5" fill="#fff" stroke="#b2b2b2"/></svg>
<svg class="a" style="left:1004.5px;top:507.6px" width="9" height="9" viewBox="0 0 9 9"><rect x="0.5" y="0.5" width="8" height="8" rx="1.5" fill="#fff" stroke="#b2b2b2"/></svg>
<svg class="a" style="left:1004.5px;top:527.8px" width="9" height="9" viewBox="0 0 9 9"><rect x="0.5" y="0.5" width="8" height="8" rx="1.5" fill="#fff" stroke="#b2b2b2"/></svg>
<svg class="a" style="left:1004.5px;top:548.0px" width="9" height="9" viewBox="0 0 9 9"><rect x="0.5" y="0.5" width="8" height="8" rx="1.5" fill="#fff" stroke="#b2b2b2"/><path d="M2.2 4.6l1.8 2 3.2-3.8" stroke="#555" stroke-width="1" fill="none"/></svg>
<svg class="a" style="left:1004.5px;top:568.2px" width="9" height="9" viewBox="0 0 9 9"><rect x="0.5" y="0.5" width="8" height="8" rx="1.5" fill="#fff" stroke="#b2b2b2"/></svg>
<svg class="a" style="left:1004.5px;top:588.4px" width="9" height="9" viewBox="0 0 9 9"><rect x="0.5" y="0.5" width="8" height="8" rx="1.5" fill="#fff" stroke="#b2b2b2"/></svg>
<div class="a" style="left:1325.5px;top:442px;width:14px;height:177px;background:#f1f1f1"></div>
<svg class="a" style="left:1326.5px;top:446px" width="10" height="6" viewBox="0 0 10 6"><path d="M1 5.5L5 0.8l4 4.7z" fill="#555"/></svg>
<svg class="a" style="left:1326.5px;top:595.7px" width="10" height="6" viewBox="0 0 10 6"><path d="M1 0.5L5 5.2l4-4.7z" fill="#555"/></svg>
<div class="a" style="left:1328.0px;top:489px;width:7px;height:45px;background:#c9c9c9;border-radius:3.5px"></div>
<div class="a" style="left:1000px;top:604px;width:326px;height:15px;background:#f1f1f1"></div>
<svg class="a" style="left:1005px;top:607px" width="6" height="10" viewBox="0 0 6 10"><path d="M5.5 1L0.8 5l4.7 4z" fill="#555"/></svg>
<svg class="a" style="left:1316px;top:607px" width="6" height="10" viewBox="0 0 6 10"><path d="M0.5 1L5.2 5l-4.7 4z" fill="#555"/></svg>
<div class="a" style="left:1014px;top:608.5px;width:240px;height:7px;background:#c9c9c9;border-radius:3.5px"></div>
<div class="a" style="left:1345px;top:259px;width:6px;height:24px;background:#d2ddea"></div>
<div class="a" style="left:178px;top:257px;width:1174px;height:28px;border:2px solid #17375e"></div>
<svg class="a" style="left:949.5px;top:259.5px" width="22" height="22" viewBox="0 0 22 22"><rect x="0.5" y="0.5" width="21" height="21" rx="3" fill="#dfe8f3" stroke="#b7c6d9"/><g fill="none" stroke="#868c94" stroke-width="1.15" stroke-linejoin="round"><path d="M2.7 18.3L4.3 13.5 15.3 2.6 18.2 5.5 7.3 16.5z"/><path d="M4.3 13.5l3 3"/><path d="M13.1 4.7l3 3"/></g></svg>
<svg class="a" style="left:1158px;top:259.5px" width="22" height="22" viewBox="0 0 22 22"><rect x="0.5" y="0.5" width="21" height="21" rx="3" fill="#dfe8f3" stroke="#b7c6d9"/><g fill="none" stroke="#868c94" stroke-width="1.15" stroke-linejoin="round"><path d="M2.7 18.3L4.3 13.5 15.3 2.6 18.2 5.5 7.3 16.5z"/><path d="M4.3 13.5l3 3"/><path d="M13.1 4.7l3 3"/></g></svg>
<svg class="a" style="left:0;top:0" width="1370" height="638" viewBox="0 0 1370 638">
<ellipse cx="920.3" cy="271.2" rx="28.7" ry="12.4" fill="none" stroke="#e5000f" stroke-width="2.9"/>
<ellipse cx="1127.9" cy="271.2" rx="28.7" ry="12.4" fill="none" stroke="#e5000f" stroke-width="2.9"/>
<path d="M130.0 159.0L119.3 153.4" stroke="#1c4663" stroke-width="2.2"/>
<path d="M110.8 149.0L121.5 149.2L117.1 157.7z" fill="#1c4663"/>
<path d="M131.0 193.5L116.9 205.7" stroke="#1c4663" stroke-width="2.2"/>
<path d="M109.6 212.0L113.7 202.1L120.0 209.4z" fill="#1c4663"/>
<path d="M960.2 240.0L960.2 250.2" stroke="#1c4663" stroke-width="2.2"/>
<path d="M960.2 259.8L955.4 250.2L965.0 250.2z" fill="#1c4663"/>
<path d="M1170.2 240.0L1170.2 250.2" stroke="#1c4663" stroke-width="2.2"/>
<path d="M1170.2 259.8L1165.4 250.2L1175.0 250.2z" fill="#1c4663"/>
<path d="M515.5 475.0L515.5 487.7" stroke="#1c4663" stroke-width="2.2"/>
<path d="M515.5 497.3L510.7 487.7L520.3 487.7z" fill="#1c4663"/>
<path d="M923.8 484.0L923.8 495.7" stroke="#1c4663" stroke-width="2.2"/>
<path d="M923.8 505.3L919.0 495.7L928.6 495.7z" fill="#1c4663"/>
<circle cx="143.5" cy="174.5" r="25.5" fill="#4093b3" stroke="#1c4663" stroke-width="3"/>
<text x="143.5" y="187.0" text-anchor="middle" font-family="Liberation Sans,sans-serif" font-weight="bold" font-size="31" fill="#fff" stroke="#fff" stroke-width="0.9" stroke-linejoin="round">1</text>
<circle cx="155" cy="272" r="25.5" fill="#4093b3" stroke="#1c4663" stroke-width="3"/>
<text x="155" y="284.5" text-anchor="middle" font-family="Liberation Sans,sans-serif" font-weight="bold" font-size="31" fill="#fff" stroke="#fff" stroke-width="0.9" stroke-linejoin="round">2</text>
<circle cx="959" cy="218" r="25.5" fill="#4093b3" stroke="#1c4663" stroke-width="3"/>
<text x="959" y="230.5" text-anchor="middle" font-family="Liberation Sans,sans-serif" font-weight="bold" font-size="31" fill="#fff" stroke="#fff" stroke-width="0.9" stroke-linejoin="round">3</text>
<circle cx="1169.3" cy="217.5" r="25.5" fill="#4093b3" stroke="#1c4663" stroke-width="3"/>
<text x="1169.3" y="230.0" text-anchor="middle" font-family="Liberation Sans,sans-serif" font-weight="bold" font-size="31" fill="#fff" stroke="#fff" stroke-width="0.9" stroke-linejoin="round">5</text>
<circle cx="515.5" cy="453" r="25.5" fill="#4093b3" stroke="#1c4663" stroke-width="3"/>
<text x="515.5" y="465.5" text-anchor="middle" font-family="Liberation Sans,sans-serif" font-weight="bold" font-size="31" fill="#fff" stroke="#fff" stroke-width="0.9" stroke-linejoin="round">7</text>
<circle cx="923.5" cy="462.5" r="25.5" fill="#4093b3" stroke="#1c4663" stroke-width="3"/>
<text x="923.5" y="475.0" text-anchor="middle" font-family="Liberation Sans,sans-serif" font-weight="bold" font-size="31" fill="#fff" stroke="#fff" stroke-width="0.9" stroke-linejoin="round">9</text>
<circle cx="478" cy="549" r="25.5" fill="#4093b3" stroke="#1c4663" stroke-width="3"/>
<text x="478" y="560.7" text-anchor="middle" font-family="Liberation Sans,sans-serif" font-weight="bold" font-size="29.6" fill="#fff" stroke="#fff" stroke-width="0.9" stroke-linejoin="round">A</text>
<circle cx="892.2" cy="549.5" r="25.5" fill="#4093b3" stroke="#1c4663" stroke-width="3"/>
<text x="892.2" y="561.2" text-anchor="middle" font-family="Liberation Sans,sans-serif" font-weight="bold" font-size="29.6" fill="#fff" stroke="#fff" stroke-width="0.9" stroke-linejoin="round">B</text>
</svg>
</body></html>
